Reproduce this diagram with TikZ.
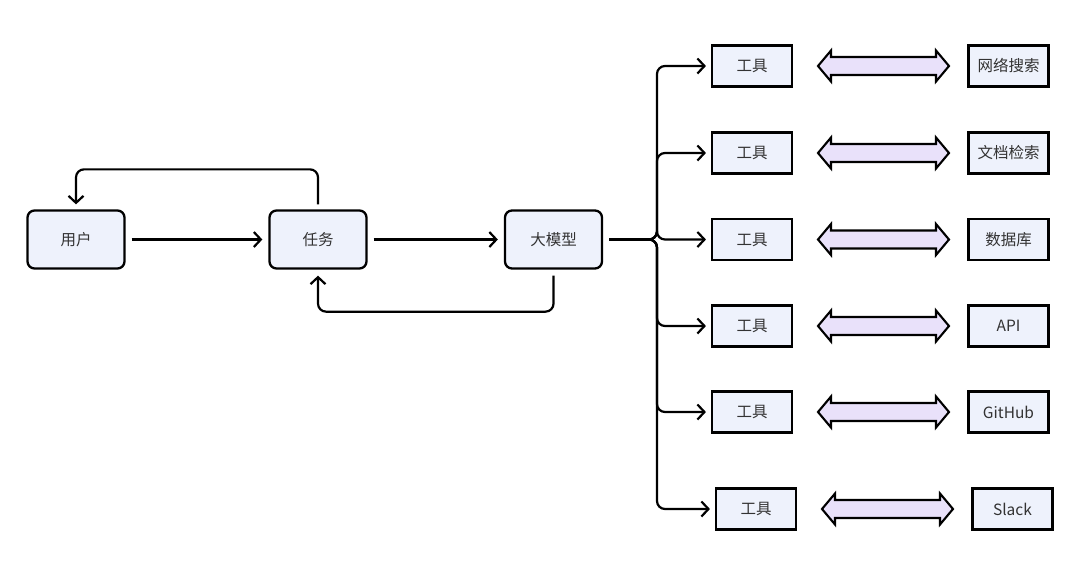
\documentclass[tikz,border=0pt]{standalone}
\usepackage{fontspec}
\setmainfont{Noto Sans CJK SC}
\usetikzlibrary{arrows.meta,calc}

\definecolor{boxblue}{HTML}{EEF2FC}
\definecolor{linkpurple}{HTML}{E9E1FA}
\definecolor{txtgray}{HTML}{333333}

\tikzset{
  stage/.style={draw=black, line width=2.3pt, rounded corners=7pt, fill=boxblue,
    minimum width=97pt, minimum height=58pt, inner sep=0pt, text=txtgray,
    font=\fontsize{15.5}{18}\selectfont},
  toolbox/.style={draw=black, line width=2.1pt, fill=boxblue,
    minimum width=80pt, minimum height=41pt, inner sep=0pt, text=txtgray,
    font=\fontsize{15.5}{18}\selectfont},
  flow/.style={line width=2.2pt, rounded corners=8pt,
    -{Straight Barb[length=7pt,width=15pt,line width=2.2pt]}},
  link/.style={draw=black, line width=2.1pt, fill=linkpurple, line join=miter}
}

\begin{document}
\begin{tikzpicture}[x=1pt,y=-1pt]
  \useasboundingbox (0,0) rectangle (1080,574);

  \node[stage] (user) at (76,239.5) {用户};
  \node[stage] (task) at (318,239.5) {任务};
  \node[stage] (llm) at (553.5,239.5) {大模型};

  \draw[flow] (user.east) ++(6,0) -- ($(task.west)+(-6,0)$);
  \draw[flow] (task.east) ++(6,0) -- ($(llm.west)+(-6,0)$);
  \draw[flow] (task.north) ++(0,-5) -- ++(0,-35) -| ($(user.north)+(0,-5)$);
  \draw[flow] (llm.south) ++(0,6) -- ++(0,36) -| ($(task.south)+(0,6)$);

  \foreach \y/\dx/\name [count=\i] in {66/0/网络搜索, 153/0/文档检索, 239.5/0/数据库,
      326/0/API, 412/0/GitHub, 509/4/Slack} {
    \node[toolbox] (tool\i) at (752+\dx,\y) {工具};
    \node[toolbox] (res\i) at (1008.5+\dx,\y) {\name};
    \draw[flow] (llm.east) ++(6,0) -- (657,239.5) |- ($(tool\i.west)+(-5,0)$);
    \draw[link] (818+\dx,\y) -- (831+\dx,\y-15.5) -- (831+\dx,\y-9) -- (936+\dx,\y-9)
      -- (936+\dx,\y-15.5) -- (949+\dx,\y) -- (936+\dx,\y+15.5) -- (936+\dx,\y+9)
      -- (831+\dx,\y+9) -- (831+\dx,\y+15.5) -- cycle;
  }
\end{tikzpicture}
\end{document}
